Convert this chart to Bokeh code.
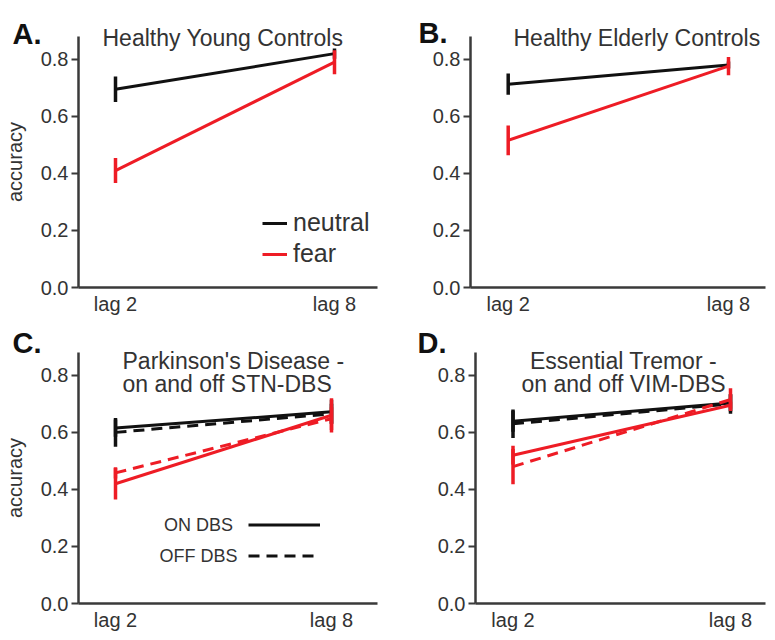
from bokeh.plotting import figure
from bokeh.layouts import column, row
from bokeh.models import (ColumnDataSource, Label, Legend, LegendItem,
                          FixedTicker, NumeralTickFormatter, Range1d)
from bokeh.embed import file_html
from bokeh.resources import INLINE

# ---------------- data ----------------
lags = ["lag 2", "lag 8"]
lag_pos = [0, 1]
y_ticks = [0.0, 0.2, 0.4, 0.6, 0.8]
y_axis_top = 0.88

# A. Healthy Young Controls
young_neutral = [0.695, 0.820]
young_neutral_se = [0.045, 0.018]
young_fear = [0.410, 0.790]
young_fear_se = [0.044, 0.042]

# B. Healthy Elderly Controls
elderly_neutral = [0.713, 0.780]
elderly_neutral_se = [0.037, 0.012]
elderly_fear = [0.516, 0.776]
elderly_fear_se = [0.052, 0.032]

# C. Parkinson's Disease - on and off STN-DBS
pd_on_neutral = [0.615, 0.672]
pd_on_neutral_se = [0.030, 0.042]
pd_off_neutral = [0.600, 0.665]
pd_off_neutral_se = [0.050, 0.035]
pd_on_fear = [0.420, 0.660]
pd_on_fear_se = [0.055, 0.060]
pd_off_fear = [0.458, 0.648]
pd_off_fear_se = [0.020, 0.040]

# D. Essential Tremor - on and off VIM-DBS
et_on_neutral = [0.639, 0.703]
et_on_neutral_se = [0.037, 0.030]
et_off_neutral = [0.630, 0.700]
et_off_neutral_se = [0.050, 0.035]
et_on_fear = [0.520, 0.695]
et_on_fear_se = [0.033, 0.012]
et_off_fear = [0.480, 0.715]
et_off_fear_se = [0.062, 0.040]

# ---------------- style ----------------
FONT = "Liberation Sans"
BLACK = "#111111"
RED = "#ee1c25"
AXIS = "#3a3a3a"
TEXT = "#333333"
DASH = "11 7"
PX_PER_Y = 285.2   # pixels per unit of accuracy


def make_fig(width, height, axis_px, end_px, zero_px, lag2_px, lag8_px,
             ylabel=None):
    """Frame covers the whole figure; axes are pinned with fixed_location."""
    ux = float(lag8_px - lag2_px)
    x0 = (0 - lag2_px) / ux
    x1 = (width - lag2_px) / ux
    xa_at = (axis_px - lag2_px) / ux
    xa_end = (end_px - lag2_px) / ux
    y0 = -(height - zero_px) / PX_PER_Y
    y1 = zero_px / PX_PER_Y
    p = figure(width=width, height=height,
               x_range=Range1d(x0, x1), y_range=Range1d(y0, y1),
               output_backend="svg", toolbar_location=None,
               min_border_left=0, min_border_right=0,
               min_border_top=0, min_border_bottom=0)
    p.outline_line_color = None
    p.grid.visible = False
    p.background_fill_color = "white"
    p.border_fill_color = "white"

    xa = p.xaxis[0]
    xa.fixed_location = 0
    xa.bounds = (xa_at, xa_end)
    xa.ticker = FixedTicker(ticks=lag_pos)
    xa.major_label_overrides = {pos: lab for pos, lab in zip(lag_pos, lags)}
    xa.major_tick_out = 0
    xa.major_tick_in = 0
    xa.minor_tick_line_color = None
    xa.axis_line_width = 2.5
    xa.axis_line_color = AXIS
    xa.major_label_text_font = FONT
    xa.major_label_text_font_size = "20px"
    xa.major_label_text_color = TEXT
    xa.major_label_standoff = 5

    ya = p.yaxis[0]
    ya.fixed_location = xa_at
    ya.bounds = (0, y_axis_top)
    ya.ticker = FixedTicker(ticks=y_ticks)
    ya.formatter = NumeralTickFormatter(format="0.0")
    ya.major_tick_out = 7
    ya.major_tick_in = 0
    ya.major_tick_line_width = 2
    ya.major_tick_line_color = AXIS
    ya.minor_tick_line_color = None
    ya.axis_line_width = 2.5
    ya.axis_line_color = AXIS
    ya.major_label_text_font = FONT
    ya.major_label_text_font_size = "20px"
    ya.major_label_text_color = TEXT
    ya.major_label_standoff = 3
    if ylabel:
        ya.axis_label = ylabel
        ya.axis_label_text_font = FONT
        ya.axis_label_text_font_size = "20px"
        ya.axis_label_text_font_style = "normal"
        ya.axis_label_text_color = TEXT
        ya.axis_label_standoff = 12
    return p


def series(p, means, ses, color, dash="solid"):
    src = ColumnDataSource(dict(
        x=lag_pos, y=means,
        lo=[m - s for m, s in zip(means, ses)],
        hi=[m + s for m, s in zip(means, ses)]))
    r = p.line("x", "y", source=src, line_color=color, line_width=3,
               line_dash=dash)
    p.segment(x0="x", y0="lo", x1="x", y1="hi", source=src,
              line_color=color, line_width=3.5)
    return r


def label(p, sx, sy, text, size, bold=False, align="left", color=TEXT,
          baseline="alphabetic"):
    p.add_layout(Label(x=sx, y=sy, x_units="screen", y_units="screen",
                       text=text, text_font=FONT,
                       text_font_size=size, text_color=color,
                       text_font_style="bold" if bold else "normal",
                       text_align=align, text_baseline=baseline))


# ---------------- A ----------------
pA = make_fig(390, 318, 78, 377, 287, 115, 334, "accuracy")
rA_n = series(pA, young_neutral, young_neutral_se, BLACK)
rA_f = series(pA, young_fear, young_fear_se, RED)
label(pA, 12, 285, "A.", "29px", bold=True, color="#111111")
label(pA, 102, 281, "Healthy Young Controls", "23px")
legA = Legend(items=[LegendItem(label="neutral", renderers=[rA_n]),
                     LegendItem(label="fear", renderers=[rA_f])],
              location=(262, 50), padding=0, margin=0, spacing=2,
              glyph_width=25, glyph_height=26, label_height=26,
              label_standoff=6, border_line_alpha=0,
              background_fill_alpha=0, label_text_font=FONT,
              label_text_font_size="25px", label_text_color=TEXT)
pA.add_layout(legA)

# ---------------- B ----------------
pB = make_fig(377, 318, 80, 375, 287, 117.7, 338)
series(pB, elderly_neutral, elderly_neutral_se, BLACK)
series(pB, elderly_fear, elderly_fear_se, RED)
label(pB, 28, 286, "B.", "29px", bold=True, color="#111111")
label(pB, 123, 281, "Healthy Elderly Controls", "23px")

# ---------------- C ----------------
pC = make_fig(390, 314, 78, 377, 285, 115, 331, "accuracy")
rC_off = series(pC, pd_off_neutral, pd_off_neutral_se, BLACK, DASH)
rC_on = series(pC, pd_on_neutral, pd_on_neutral_se, BLACK)
series(pC, pd_off_fear, pd_off_fear_se, RED, DASH)
series(pC, pd_on_fear, pd_on_fear_se, RED)
label(pC, 12, 290, "C.", "29px", bold=True, color="#111111")
label(pC, 122, 272, "Parkinson's Disease -", "23px")
label(pC, 122, 249, "on and off STN-DBS", "23px")
legC = Legend(items=[LegendItem(label=" ", renderers=[rC_on]),
                     LegendItem(label=" ", renderers=[rC_off])],
              location=(248, 64), padding=0, margin=0, spacing=6,
              glyph_width=72, glyph_height=25, label_height=25,
              label_standoff=0, border_line_alpha=0,
              background_fill_alpha=0, label_text_font=FONT,
              label_text_font_size="10px")
pC.add_layout(legC)
label(pC, 198, 108, "ON DBS", "18px", align="center", baseline="middle")
label(pC, 198, 77, "OFF DBS", "18px", align="center", baseline="middle")

# ---------------- D ----------------
pD = make_fig(377, 314, 85, 375, 285, 122.5, 340)
series(pD, et_off_neutral, et_off_neutral_se, BLACK, DASH)
series(pD, et_on_neutral, et_on_neutral_se, BLACK)
series(pD, et_off_fear, et_off_fear_se, RED, DASH)
series(pD, et_on_fear, et_on_fear_se, RED)
label(pD, 27, 290, "D.", "29px", bold=True, color="#111111")
label(pD, 233, 272, "Essential Tremor -", "23px", align="center")
label(pD, 233, 249, "on and off VIM-DBS", "23px", align="center")

layout = column(row(pA, pB), row(pC, pD))
open("out.html", "w").write(file_html(layout, INLINE))
